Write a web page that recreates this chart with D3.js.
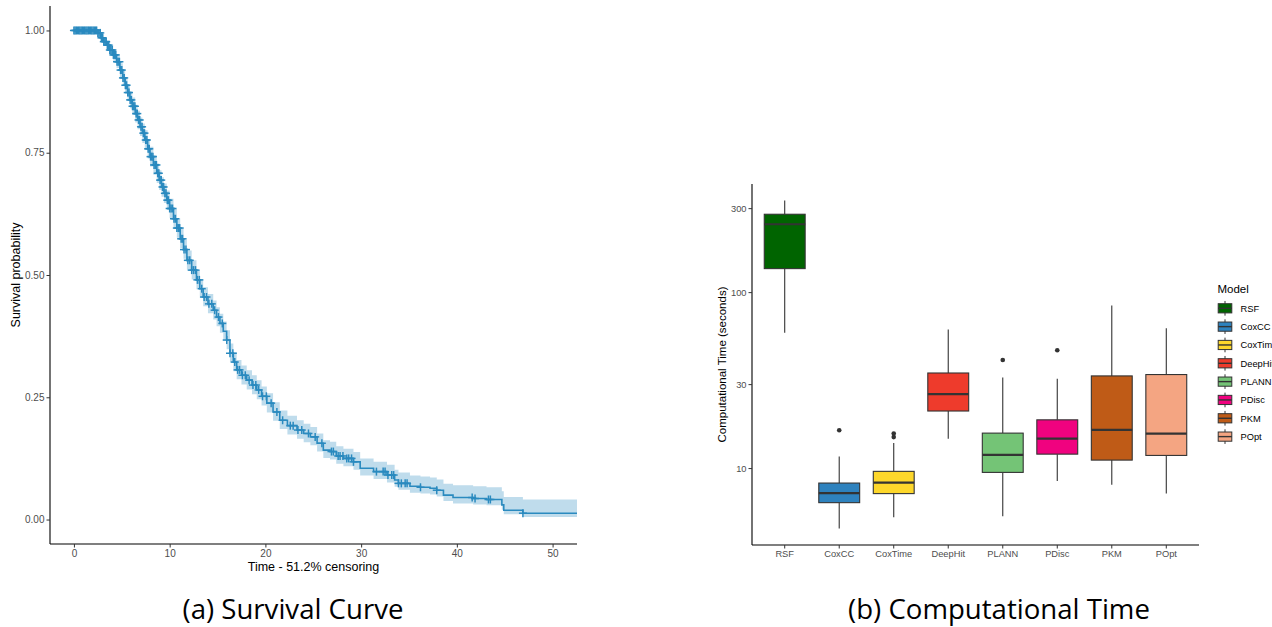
<!DOCTYPE html>
<html><head><meta charset="utf-8">
<script src="https://cdn.jsdelivr.net/npm/d3@7"></script>
<style>
html,body{margin:0;padding:0;background:#fff;}
svg{display:block;}
</style>
</head><body>
<svg id="chart" width="1272" height="627"></svg>
<script>
// ---------- Panel (a): Kaplan-Meier survival curve ----------
const survTime = [0, 2.2, 2.5, 2.8, 3.1, 3.4, 3.75, 4.1, 4.45, 4.8, 5.1, 5.35, 5.6, 5.85, 6.1, 6.4, 6.65, 6.9, 7.15, 7.4,
  7.7, 7.95, 8.3, 8.65, 8.9, 9.15, 9.4, 9.7, 10.0, 10.4, 10.75, 11.1, 11.45, 11.8, 12.3, 12.8, 13.15, 13.5, 14.0, 14.55,
  14.9, 15.25, 15.6, 15.95, 16.3, 16.65, 17.0, 17.5, 18.05, 18.6, 19.1, 19.6, 20.15, 20.8, 21.5, 22.3, 23.3, 24.0, 24.7, 25.4,
  26.05, 26.75, 27.4, 28.15, 29.2, 29.9, 31.3, 32.7, 33.5, 33.9, 35.1, 36.2, 37.2, 37.9, 38.6, 39.6, 41.7, 43.1, 44.7, 44.9,
  46.9, 52.55];
const survProb = [1, 1, 0.995, 0.985, 0.977, 0.970, 0.960, 0.950, 0.936, 0.919, 0.903, 0.888, 0.873, 0.858, 0.845, 0.830, 0.817, 0.803, 0.790, 0.776,
  0.758, 0.742, 0.725, 0.708, 0.694, 0.680, 0.667, 0.653, 0.636, 0.615, 0.596, 0.574, 0.552, 0.530, 0.510, 0.490, 0.472, 0.455, 0.441, 0.428,
  0.414, 0.401, 0.385, 0.367, 0.340, 0.322, 0.306, 0.295, 0.285, 0.275, 0.265, 0.252, 0.238, 0.220, 0.203, 0.192, 0.183, 0.176, 0.169, 0.156,
  0.142, 0.139, 0.130, 0.125, 0.118, 0.105, 0.098, 0.091, 0.081, 0.074, 0.068, 0.066, 0.064, 0.060, 0.050, 0.045, 0.043, 0.041, 0.030, 0.019,
  0.013, 0.013];
const survLower = [1, 1, 0.990, 0.978, 0.968, 0.960, 0.949, 0.938, 0.923, 0.905, 0.888, 0.872, 0.856, 0.841, 0.827, 0.812, 0.798, 0.784, 0.770, 0.756,
  0.738, 0.722, 0.705, 0.688, 0.674, 0.660, 0.647, 0.633, 0.616, 0.595, 0.576, 0.555, 0.533, 0.511, 0.491, 0.471, 0.453, 0.436, 0.422, 0.409,
  0.395, 0.382, 0.366, 0.348, 0.321, 0.303, 0.287, 0.276, 0.266, 0.256, 0.246, 0.233, 0.219, 0.202, 0.185, 0.174, 0.165, 0.158, 0.152, 0.139,
  0.126, 0.123, 0.114, 0.109, 0.102, 0.090, 0.083, 0.076, 0.067, 0.061, 0.055, 0.053, 0.051, 0.047, 0.038, 0.033, 0.031, 0.029, 0.020, 0.011,
  0.005, 0.005];
const survUpper = [1, 1, 1, 0.992, 0.986, 0.980, 0.971, 0.962, 0.949, 0.933, 0.918, 0.904, 0.890, 0.875, 0.863, 0.848, 0.836, 0.822, 0.810, 0.796,
  0.778, 0.762, 0.745, 0.728, 0.714, 0.700, 0.687, 0.673, 0.656, 0.635, 0.616, 0.594, 0.572, 0.550, 0.530, 0.510, 0.492, 0.475, 0.461, 0.448,
  0.434, 0.421, 0.405, 0.387, 0.360, 0.342, 0.326, 0.315, 0.305, 0.295, 0.285, 0.272, 0.258, 0.240, 0.223, 0.212, 0.203, 0.196, 0.189, 0.176,
  0.162, 0.159, 0.150, 0.145, 0.138, 0.125, 0.118, 0.112, 0.102, 0.096, 0.090, 0.088, 0.086, 0.082, 0.073, 0.070, 0.068, 0.066, 0.058, 0.046,
  0.041, 0.041];
const censorTimes = [0, 0.12, 0.25, 0.37, 0.5, 0.62, 0.75, 0.87, 1.0, 1.12, 1.25, 1.37, 1.5, 1.62, 1.75, 1.87, 2.0, 2.12, 2.25, 2.37,
  2.5, 2.62, 2.75, 2.87, 3.0, 3.12, 3.25, 3.37, 3.5, 3.62, 3.75, 3.87, 4.0, 4.12, 4.25, 4.37, 4.5, 4.62, 4.75, 4.87,
  5.0, 5.12, 5.25, 5.37, 5.5, 5.62, 5.75, 5.87, 6.0, 6.12, 6.25, 6.37, 6.5, 6.62, 6.75, 6.87, 7.0, 7.12, 7.25, 7.37,
  7.5, 7.62, 7.75, 7.87, 8.0, 8.12, 8.25, 8.37, 8.5, 8.62, 8.75, 8.87, 9.0, 9.12, 9.25, 9.37, 9.5, 9.62, 9.75, 9.87,
  10.0, 10.15, 10.3, 10.45, 10.6, 10.75, 10.9, 11.05, 11.2, 11.35, 11.5, 11.7, 11.9, 12.1, 12.3, 12.5, 12.7, 12.9, 13.1, 13.35,
  13.6, 13.85, 14.1, 14.4, 14.7, 15.1, 15.5, 15.96, 16.3, 16.6, 16.8, 17.1, 17.3, 17.6, 17.9, 18.3, 18.7, 19.0, 19.3, 19.7,
  20.1, 20.6, 21.2, 21.8, 22.6, 22.9, 23.4, 23.8, 24.5, 25.2, 25.9, 26.9, 27.1, 27.6, 27.8, 28.1, 28.5, 28.7, 29.0, 29.2,
  31.6, 32.3, 32.5, 32.8, 33.2, 33.4, 33.9, 34.2, 34.6, 34.8, 36.2, 37.9, 41.6, 41.9, 43.3, 43.5, 46.9];
const survXTicks = [0, 10, 20, 30, 40, 50];
const survYTicks = [0, 0.25, 0.5, 0.75, 1];
const survXDomain = [-2.5, 52.55];
const survYDomain = [-0.05, 1.05];

// ---------- Panel (b): computational time boxplots ----------
const models = ["RSF", "CoxCC", "CoxTime", "DeepHit", "PLANN", "PDisc", "PKM", "POpt"];
const legendLabels = ["RSF", "CoxCC", "CoxTime", "DeepHit", "PLANN", "PDisc", "PKM", "POpt"];
const whiskerLow = [58.8, 4.53, 5.25, 14.7, 5.32, 8.44, 8.05, 7.16];
const q1 = [136, 6.36, 7.16, 21.1, 9.45, 12.0, 11.1, 11.8];
const median = [243, 7.21, 8.26, 26.3, 11.9, 14.7, 16.5, 15.7];
const q3 = [277, 8.22, 9.58, 34.7, 15.8, 18.8, 33.4, 34.0];
const whiskerHigh = [332, 11.65, 13.87, 61.4, 32.7, 32.2, 84, 62.4];
const outliers = [[], [16.4], [15.0, 15.7], [], [41.1], [46.7], [], []];
const modelColors = ["#006400", "#2E82BE", "#FDD72B", "#EE3B2C", "#74C476", "#F0027F", "#BF5B17", "#F4A582"];
const timeTicks = [10, 30, 100, 300];

const svg = d3.select("#chart");
const axisFont = "'Liberation Sans', Arial, sans-serif";
const capFont = "'Open Sans', 'Noto Sans', sans-serif";

// ===== Panel (a) =====
const A = {left: 50, right: 577, top: 6, bottom: 544};
const xA = d3.scaleLinear().domain(survXDomain).range([A.left, A.right]);
const yA = d3.scaleLinear().domain(survYDomain).range([A.bottom, A.top]);
const gA = svg.append("g");
const survData = survTime.map((t, i) => ({t, s: survProb[i], lo: survLower[i], hi: survUpper[i]}));

gA.append("path").datum(survData)
  .attr("fill", "#2a8abf").attr("fill-opacity", 0.3)
  .attr("d", d3.area().curve(d3.curveStepAfter).x(d => xA(d.t)).y0(d => yA(d.lo)).y1(d => yA(d.hi)));
gA.append("path").datum(survData)
  .attr("fill", "none").attr("stroke", "#2a8abf").attr("stroke-width", 1.6)
  .attr("d", d3.line().curve(d3.curveStepAfter).x(d => xA(d.t)).y(d => yA(d.s)));

const bis = d3.bisector(d => d.t).right;
const stepAt = t => survData[Math.max(0, bis(survData, t) - 1)].s;
const cens = gA.append("g").attr("stroke", "#2a8abf").attr("stroke-width", 1.5);
censorTimes.forEach(t => {
  const cx = xA(t), cy = yA(stepAt(t));
  cens.append("line").attr("x1", cx - 4).attr("x2", cx + 4).attr("y1", cy).attr("y2", cy);
  cens.append("line").attr("x1", cx).attr("x2", cx).attr("y1", cy - 4).attr("y2", cy + 4);
});

const axA_x = gA.append("g").attr("transform", `translate(0,${A.bottom})`)
  .call(d3.axisBottom(xA).tickValues(survXTicks).tickSize(3.5).tickPadding(2).tickFormat(d3.format("d")));
const axA_y = gA.append("g").attr("transform", `translate(${A.left},0)`)
  .call(d3.axisLeft(yA).tickValues(survYTicks).tickSize(3.5).tickPadding(2).tickFormat(d3.format(".2f")));
[axA_x, axA_y].forEach(ax => {
  ax.select(".domain").attr("stroke", "#000").attr("stroke-width", 1.1);
  ax.selectAll(".tick line").attr("stroke", "#333");
  ax.selectAll(".tick text").attr("fill", "#4D4D4D").style("font-family", axisFont).style("font-size", "10px");
});
axA_x.select(".domain").attr("d", `M${A.left},0H${A.right}`);
axA_y.select(".domain").attr("d", `M0,${A.top}V${A.bottom}`);

gA.append("text").attr("x", (A.left + A.right) / 2).attr("y", 571)
  .attr("text-anchor", "middle").style("font-family", axisFont).style("font-size", "12.5px")
  .text("Time - 51.2% censoring");
gA.append("text").attr("transform", `translate(19.5,${(A.top + A.bottom) / 2}) rotate(-90)`)
  .attr("text-anchor", "middle").style("font-family", axisFont).style("font-size", "12.5px")
  .text("Survival probability");

// ===== Panel (b) =====
const B = {left: 752, right: 1199, top: 184, bottom: 545};
const xB = d3.scaleBand().domain(models).range([B.left, B.right]).paddingOuter(0.1).paddingInner(0);
const allVals = whiskerLow.concat(whiskerHigh, outliers.flat());
const lmin = Math.log10(d3.min(allVals)), lmax = Math.log10(d3.max(allVals));
const lpad = (lmax - lmin) * 0.05;
const yB = d3.scaleLog().domain([Math.pow(10, lmin - lpad), Math.pow(10, lmax + lpad)]).range([B.bottom, B.top]);
const gB = svg.append("g");
const bw = xB.bandwidth() * 0.75;

models.forEach((m, i) => {
  const cx = xB(m) + xB.bandwidth() / 2;
  const g = gB.append("g");
  g.append("line").attr("x1", cx).attr("x2", cx).attr("y1", yB(q3[i])).attr("y2", yB(whiskerHigh[i]))
    .attr("stroke", "#333").attr("stroke-width", 1.1);
  g.append("line").attr("x1", cx).attr("x2", cx).attr("y1", yB(q1[i])).attr("y2", yB(whiskerLow[i]))
    .attr("stroke", "#333").attr("stroke-width", 1.1);
  g.append("rect").attr("x", cx - bw / 2).attr("width", bw)
    .attr("y", yB(q3[i])).attr("height", yB(q1[i]) - yB(q3[i]))
    .attr("fill", modelColors[i]).attr("stroke", "#333").attr("stroke-width", 1.1);
  g.append("line").attr("x1", cx - bw / 2).attr("x2", cx + bw / 2).attr("y1", yB(median[i])).attr("y2", yB(median[i]))
    .attr("stroke", "#333").attr("stroke-width", 2.2);
  outliers[i].forEach(v => {
    g.append("circle").attr("cx", cx).attr("cy", yB(v)).attr("r", 2.3).attr("fill", "#333");
  });
});

const axB_x = gB.append("g").attr("transform", `translate(0,${B.bottom})`)
  .call(d3.axisBottom(xB).tickSize(3.5).tickPadding(2));
const axB_y = gB.append("g").attr("transform", `translate(${B.left},0)`)
  .call(d3.axisLeft(yB).tickValues(timeTicks).tickSize(3.5).tickPadding(2).tickFormat(d3.format("d")));
[axB_x, axB_y].forEach(ax => {
  ax.select(".domain").attr("stroke", "#000").attr("stroke-width", 1.1);
  ax.selectAll(".tick line").attr("stroke", "#333");
  ax.selectAll(".tick text").attr("fill", "#4D4D4D").style("font-family", axisFont).style("font-size", "9.3px");
});
axB_x.select(".domain").attr("d", `M${B.left},0H${B.right}`);
axB_y.select(".domain").attr("d", `M0,${B.top}V${B.bottom}`);

gB.append("text").attr("transform", `translate(726,${(B.top + B.bottom) / 2}) rotate(-90)`)
  .attr("text-anchor", "middle").style("font-family", axisFont).style("font-size", "11.5px")
  .text("Computational Time (seconds)");

// legend (clipped at the right edge, as in the original figure)
const leg = svg.append("g");
leg.append("text").attr("x", 1217.5).attr("y", 292.5).style("font-family", axisFont).style("font-size", "11.5px").text("Model");
const keyH = 18.33, keyCx = 1225, key0 = 308.3;
legendLabels.forEach((lab, i) => {
  const cy = key0 + i * keyH;
  leg.append("line").attr("x1", keyCx).attr("x2", keyCx).attr("y1", cy - keyH * 0.4).attr("y2", cy + keyH * 0.4)
    .attr("stroke", "#333").attr("stroke-width", 1);
  leg.append("rect").attr("x", keyCx - 6.8).attr("width", 13.6).attr("y", cy - 4.6).attr("height", 9.2)
    .attr("fill", modelColors[i]).attr("stroke", "#333").attr("stroke-width", 1);
  leg.append("line").attr("x1", keyCx - 6.8).attr("x2", keyCx + 6.8).attr("y1", cy).attr("y2", cy)
    .attr("stroke", "#333").attr("stroke-width", 1.4);
  leg.append("text").attr("x", 1240.5).attr("y", cy).attr("dy", "0.35em")
    .style("font-family", axisFont).style("font-size", "9.3px").attr("fill", "#000").text(lab);
});

// captions
svg.append("text").attr("x", 293).attr("y", 619).attr("text-anchor", "middle")
  .style("font-family", capFont).style("font-size", "27.6px").attr("fill", "#000").text("(a) Survival Curve");
svg.append("text").attr("x", 999).attr("y", 619).attr("text-anchor", "middle")
  .style("font-family", capFont).style("font-size", "27.6px").attr("fill", "#000").text("(b) Computational Time");
</script>
</body></html>
